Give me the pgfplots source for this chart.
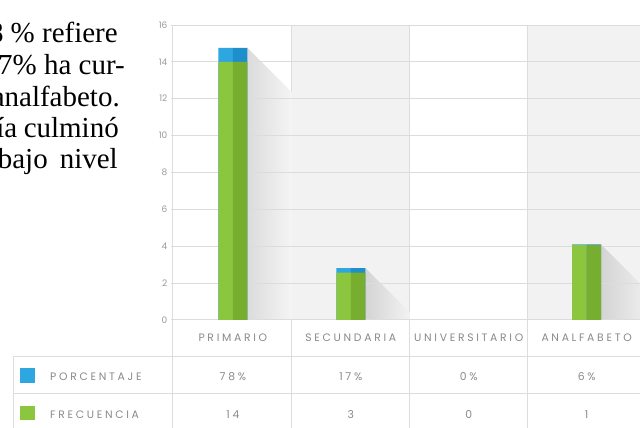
\documentclass[border=0pt]{standalone}
\usepackage{fontspec}
\setmainfont{Liberation Serif}
\newfontfamily\chartfont[LetterSpace=25]{Poppins}
\newfontfamily\tickfont{Poppins}
\usepackage{pgfplots}
\usepackage{pgfplotstable}
\pgfplotsset{compat=1.18}
\definecolor{gL}{HTML}{8CC63F}
\definecolor{gD}{HTML}{77AE30}
\definecolor{bL}{HTML}{2EA6E0}
\definecolor{bD}{HTML}{1F8FCC}
\definecolor{gridc}{HTML}{DCDCDC}
\definecolor{linec}{HTML}{DDDDDD}
\definecolor{colbg}{HTML}{F2F2F2}
\definecolor{txt}{HTML}{8A8A8A}
\definecolor{tickc}{HTML}{9A9A9A}

\pgfplotstableread{
x f p
0 14 0.76
1 2.56 0.25
2 0 0
3 4.05 0.04
}\datatable

\begin{document}
\begin{tikzpicture}
\begin{scope}[x=1pt,y=1pt]
\useasboundingbox (0,0) rectangle (640,428);
\fill[white] (0,0) rectangle (640,428);
% column backgrounds
\fill[colbg] (292,108) rectangle (410,403);
\fill[colbg] (528,108) rectangle (640,403);
% separators and table lines
\draw[linec, line width=0.8pt] (292,0) -- (292,403);
\draw[linec, line width=0.8pt] (410,0) -- (410,403);
\draw[linec, line width=0.8pt] (528,0) -- (528,403);
\draw[linec, line width=0.8pt] (173,0) -- (173,403);
\draw[linec, line width=0.8pt] (13,0) -- (13,71);
\draw[linec, line width=0.8pt] (13,71) -- (640,71);
\draw[linec, line width=0.8pt] (13,34) -- (640,34);
% left paragraph fragment
\begin{scope}[every node/.style={anchor=base east, inner sep=0pt, font=\fontsize{29}{32}\selectfont}]
\node at (118,385) {78 \% refiere};
\node at (125,353) {17\% ha cur-};
\node at (120,321) {es analfabeto.};
\node at (119,290) {La mayoría\hspace{6.5pt}culminó};
\node at (118,259) {un\hspace{12pt}bajo\hspace{12pt}nivel};
\end{scope}
\end{scope}

% shadows
\begin{axis}[at={(174pt,108pt)}, anchor=south west, scale only axis,
  width=466pt, height=295pt, xmin=-0.5, xmax=3.449, ymin=0, ymax=16, hide axis]
\addplot[draw=none, left color=black!14, right color=black!4] coordinates {(0.123,14.76) (0.5,12.35)} \closedcycle;
\addplot[draw=none, left color=black!17, right color=colbg] coordinates {(1.123,2.81) (1.5,0.40)} \closedcycle;
\addplot[draw=none, left color=black!17, right color=black!8] coordinates {(3.123,4.09) (3.449,2.00)} \closedcycle;
\end{axis}

% main axis
\begin{axis}[at={(174pt,108pt)}, anchor=south west, scale only axis,
  width=466pt, height=295pt, xmin=-0.5, xmax=3.449, ymin=0, ymax=16,
  axis line style={draw=none}, xtick=\empty, ytick={0,2,...,16},
  ymajorgrids, grid style={gridc, line width=0.8pt},
  ytick pos=left, tick align=outside, major tick length=3pt,
  tick style={gridc, line width=0.8pt},
  /pgf/number format/assume math mode=true,
  yticklabel style={font=\tickfont\fontsize{9}{9}\selectfont, text=tickc},
  restrict y to domain=0.01:20]
\addplot[ybar, bar width=14.5pt, bar shift=-7.25pt, fill=bL, draw=none] table[x=x, y expr=\thisrow{f}+\thisrow{p}] {\datatable};
\addplot[ybar, bar width=14.5pt, bar shift=7.25pt, fill=bD, draw=none] table[x=x, y expr=\thisrow{f}+\thisrow{p}] {\datatable};
\addplot[ybar, bar width=14.5pt, bar shift=-7.25pt, fill=gL, draw=none] table[x=x, y=f] {\datatable};
\addplot[ybar, bar width=14.5pt, bar shift=7.25pt, fill=gD, draw=none] table[x=x, y=f] {\datatable};
\end{axis}

% table text
\begin{scope}[x=1pt,y=1pt,every node/.style={inner sep=0pt, text=txt, font=\chartfont\fontsize{10.8}{10.8}\selectfont}]
\node at (233,90) {PRIMARIO};
\node at (351,90) {SECUNDARIA};
\node at (469,90) {UNIVERSITARIO};
\node at (587,90) {ANALFABETO};
\node at (233,51) {78\%};
\node at (351,51) {17\%};
\node at (469,51) {0\%};
\node at (587,51) {6\%};
\node at (233,13) {14};
\node at (351,13) {3};
\node at (469,13) {0};
\node at (587,13) {1};
\node[anchor=west] at (50,51) {PORCENTAJE};
\node[anchor=west] at (50,13) {FRECUENCIA};
\fill[bL] (20,45) rectangle (35,60);
\fill[gL] (20,8) rectangle (35,22);
\end{scope}
\end{tikzpicture}
\end{document}
